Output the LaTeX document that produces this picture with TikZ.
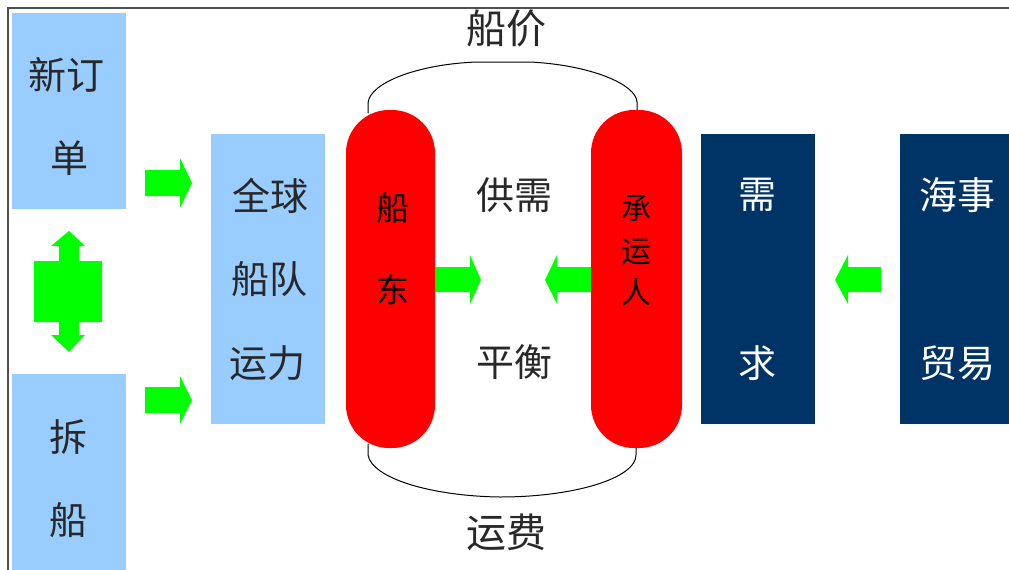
\documentclass[tikz,border=0pt]{standalone}
\usepackage{fontspec}
\newfontfamily\cjk{Noto Sans CJK SC}
\definecolor{lightblue}{RGB}{153,204,255}
\definecolor{navy}{RGB}{0,51,102}
\definecolor{agreen}{RGB}{0,255,0}
\definecolor{framegray}{RGB}{80,80,80}
\definecolor{txtgray}{RGB}{40,40,40}
\begin{document}
\begin{tikzpicture}[x=1pt,y=-1pt,
  lbox/.style={fill=lightblue, draw=none, inner sep=0pt, minimum width=114pt},
  nbox/.style={fill=navy, draw=none, inner sep=0pt, minimum width=114pt, minimum height=290pt},
  redpill/.style={fill=red, draw=none, inner sep=0pt, minimum height=338pt, rounded corners=43pt},
  bigtxt/.style={inner sep=0pt, text=txtgray, font=\cjk\fontsize{38}{38}\selectfont},
  toptxt/.style={inner sep=0pt, text=txtgray, font=\cjk\fontsize{40}{40}\selectfont},
  whitetxt/.style={inner sep=0pt, text=white, font=\cjk\fontsize{38}{38}\selectfont},
  redtxt/.style={inner sep=0pt, text=black, font=\cjk\fontsize{33}{33}\selectfont},
  smalltxt/.style={inner sep=0pt, text=black, font=\cjk\fontsize{30}{30}\selectfont},
  arr/.style={fill=agreen, draw=none},
  curve/.style={draw=black, line width=1pt}
]
\useasboundingbox (0,0) rectangle (1009,570);
\fill[white] (0,0) rectangle (1009,570);
\draw[framegray, line width=1.2pt] (8,570) -- (8,8) -- (1009,8);

% boxes
\node[lbox, minimum height=196pt] (xdd) at (69,111) {};
\node[lbox, minimum height=198pt] (cc) at (69,473) {};
\node[lbox, minimum height=290pt] (qq) at (268,279) {};
\node[redpill, minimum width=89pt] (cd) at (390.5,279) {};
\node[redpill, minimum width=91pt] (cyr) at (636.5,279) {};
\node[nbox] (xq) at (758,279) {};
\node[nbox, minimum width=116pt] (hs) at (958,279) {};

% texts
\node[bigtxt] (t1) at (66,75) {新订};
\node[bigtxt] (t2) at (69,158) {单};
\node[bigtxt] (t3) at (68,437) {拆};
\node[bigtxt] (t4) at (68,520) {船};
\node[bigtxt] (t5) at (270,196) {全球};
\node[bigtxt] (t6) at (269,279) {船队};
\node[bigtxt] (t7) at (267,363) {运力};
\node[redtxt] (t8) at (393,208) {船};
\node[redtxt] (t9) at (393,290) {东};
\node[bigtxt] (t10) at (514,195) {供需};
\node[bigtxt] (t11) at (514,362) {平衡};
\node[smalltxt] (t12) at (636,209) {承};
\node[smalltxt] (t13) at (636,252) {运};
\node[smalltxt] (t14) at (636,292) {人};
\node[whitetxt] (t15) at (757,195) {需};
\node[whitetxt] (t16) at (757,363) {求};
\node[whitetxt] (t17) at (957,195) {海事};
\node[whitetxt] (t18) at (957,363) {贸易};
\node[toptxt] (t19) at (506,28) {船价};
\node[toptxt] (t20) at (506,532) {运费};

% green block arrows
\fill[arr] (145,170) -- (180,170) -- (180,158) -- (192,183) -- (180,208) -- (180,196) -- (145,196) -- cycle;
\fill[arr] (145,387) -- (180,387) -- (180,376) -- (192,400) -- (180,424) -- (180,413) -- (145,413) -- cycle;
\fill[arr] (435,267) -- (470,267) -- (470,255) -- (481,280) -- (470,304) -- (470,292) -- (435,292) -- cycle;
\fill[arr] (591,267) -- (557,267) -- (557,255) -- (545,280) -- (557,304) -- (557,292) -- (591,292) -- cycle;
\fill[arr] (881,267) -- (848,267) -- (848,255) -- (835,280) -- (848,304) -- (848,292) -- (881,292) -- cycle;
% up-down arrow
\fill[arr] (69,231) -- (85,246) -- (79,246) -- (79,261) -- (102,261) -- (102,322) -- (79,322) -- (79,335) -- (85,335)
  -- (69,352) -- (51,335) -- (59,335) -- (59,322) -- (34,322) -- (34,261) -- (59,261) -- (59,246) -- (51,246) -- cycle;

% curves
\coordinate (ta) at (368,113);
\coordinate (tb) at (637,110);
\coordinate (ba) at (368,444);
\coordinate (bb) at (636,448);
\draw[curve] (ta) -- (368,103) .. controls (370,82) and (420,64) .. (477,62) -- (530,62)
  .. controls (590,65) and (636,84) .. (637,102) -- (tb);
\draw[curve] (ba) -- (368,455) .. controls (372,478) and (430,496) .. (500,497)
  .. controls (575,497) and (636,478) .. (636,455) -- (bb);
\end{tikzpicture}
\end{document}
